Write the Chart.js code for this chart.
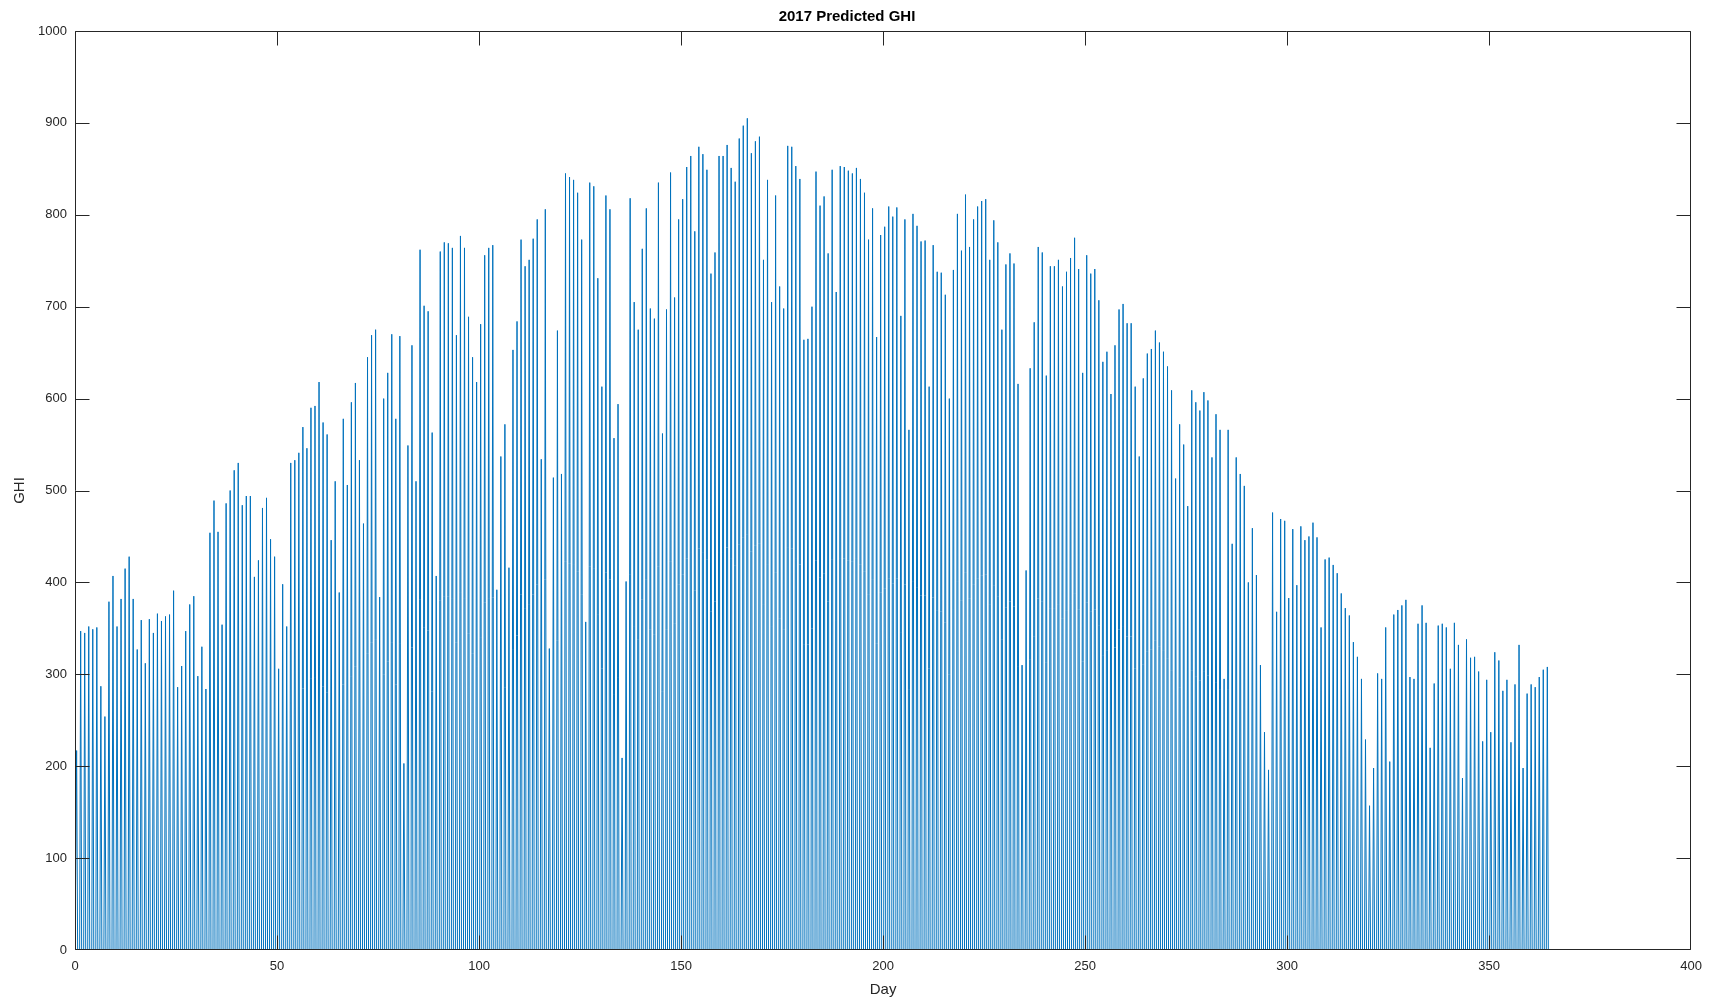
<!DOCTYPE html>
<html>
<head>
<meta charset="utf-8">
<title>2017 Predicted GHI</title>
<script src="https://cdn.jsdelivr.net/npm/chart.js@4.4.1/dist/chart.umd.min.js"></script>
<style>
    html, body { margin: 0; padding: 0; background: #ffffff; }
    #ghiChart { display: block; }
</style>
</head>
<body>
<canvas id="ghiChart" width="1711" height="999"></canvas>
<script>
// Daily peak GHI, day 0 .. day 364
const peakGHI = [
    217, 347, 345, 352, 349, 351, 287, 254, 379, 407, 352, 382, 415, 428, 382, 327, 359, 312, 360, 345, 366, 358, 363, 365, 391, 286, 309, 347, 376, 385, 298,
    330, 284, 454, 489, 455, 354, 486, 500, 522, 530, 484, 494, 494, 406, 424, 481, 492, 447, 428, 306, 398, 352, 530, 533, 541, 569, 546, 590, 592, 618, 574,
    561, 446, 510, 389, 578, 506, 596, 617, 533, 464, 645, 669, 675, 384, 600, 628, 670, 578, 668, 203, 549, 658, 510, 762, 701, 695, 563, 407, 760, 770, 769,
    764, 669, 777, 764, 689, 645, 618, 681, 756, 764, 767, 392, 537, 572, 416, 653, 684, 773, 744, 751, 774, 795, 534, 806, 328, 514, 674, 518, 845, 841, 838,
    824, 773, 357, 835, 831, 731, 613, 821, 806, 557, 594, 209, 401, 818, 705, 675, 763, 807, 698, 687, 835, 562, 697, 846, 710, 795, 817, 852, 864, 782, 874,
    866, 849, 736, 759, 864, 864, 876, 851, 836, 883, 897, 905, 867, 880, 885, 751, 838, 705, 821, 722, 698, 875, 874, 853, 839, 664, 665, 700, 847, 810, 820,
    758, 849, 716, 853, 852, 848, 845, 851, 839, 824, 773, 807, 667, 778, 787, 809, 798, 808, 690, 795, 566, 801, 788, 771, 772, 613, 767, 738, 737, 713,
    600, 740, 801, 761, 822, 765, 795, 809, 815, 817, 751, 794, 770, 675, 746, 758, 747, 616, 310, 413, 633, 683, 765, 759, 625, 744, 744, 751, 722, 738, 753,
    775, 741, 628, 756, 736, 741, 707, 640, 651, 605, 658, 697, 703, 682, 682, 613, 537, 622, 649, 654, 674, 661, 651, 635, 609, 513, 572, 550, 483, 609, 596,
    587, 607, 598, 536, 583, 566, 295, 566, 442, 536, 518, 505, 400, 459, 408, 310, 237, 196, 476, 368, 469, 467, 383, 458, 397, 461, 446, 450, 465, 449, 351,
    425, 427, 419, 410, 388, 372, 364, 335, 319, 295, 229, 157, 198, 301, 295, 351, 205, 365, 370, 375, 381, 297, 295, 355, 375, 356, 220, 290, 353, 355, 351,
    306, 356, 332, 187, 338, 318, 319, 303, 227, 294, 237, 324, 315, 282, 294, 226, 289, 332, 198, 279, 289, 286, 297, 305, 308
];

// Axis ticks
const dayTicks = [0, 50, 100, 150, 200, 250, 300, 350, 400];
const ghiTicks = [0, 100, 200, 300, 400, 500, 600, 700, 800, 900, 1000];

// Each day: night at zero, midday peak, back to zero
const points = [{ x: 0, y: 0 }];
peakGHI.forEach((peak, day) => {
    points.push({ x: day + 0.15, y: 0 });
    points.push({ x: day + 0.4, y: peak });
    points.push({ x: day + 0.65, y: 0 });
});
points.push({ x: peakGHI.length, y: 0 });

const axisColor = '#262626';
const fontFamily = '"Liberation Sans", Arial, Helvetica, sans-serif';

// MATLAB style box with inward tick marks on all four sides
const boxTicks = {
    id: 'boxTicks',
    afterDatasetsDraw(chart) {
        const { ctx, chartArea: a, scales: { x, y } } = chart;
        const len = 14;
        const left = Math.round(a.left) + 0.5;
        const right = Math.round(a.right) - 0.5;
        const top = Math.round(a.top) + 0.5;
        const bottom = Math.round(a.bottom) - 0.5;
        ctx.save();
        ctx.strokeStyle = axisColor;
        ctx.lineWidth = 1;
        ctx.beginPath();
        x.ticks.forEach(t => {
            const px = Math.min(Math.max(Math.round(x.getPixelForValue(t.value)) + 0.5, left), right);
            ctx.moveTo(px, bottom);
            ctx.lineTo(px, bottom - len);
            ctx.moveTo(px, top);
            ctx.lineTo(px, top + len);
        });
        y.ticks.forEach(t => {
            const py = Math.min(Math.max(Math.round(y.getPixelForValue(t.value)) + 0.5, top), bottom);
            ctx.moveTo(left, py);
            ctx.lineTo(left + len, py);
            ctx.moveTo(right, py);
            ctx.lineTo(right - len, py);
        });
        ctx.rect(left, top, right - left, bottom - top);
        ctx.stroke();
        ctx.restore();
    }
};

new Chart(document.getElementById('ghiChart'), {
    type: 'line',
    data: {
        datasets: [{
            label: 'GHI',
            data: points,
            borderColor: '#0072BD',
            borderWidth: 1,
            pointRadius: 0,
            tension: 0,
            fill: false
        }]
    },
    options: {
        responsive: false,
        animation: false,
        devicePixelRatio: 1,
        layout: { padding: { left: 0, right: 17, top: 0, bottom: 0 } },
        plugins: {
            legend: { display: false },
            tooltip: { enabled: false },
            title: {
                display: true,
                text: '2017 Predicted GHI',
                color: '#000000',
                font: { family: fontFamily, size: 15, weight: 'bold' },
                padding: { top: 8, bottom: 5 }
            }
        },
        scales: {
            x: {
                type: 'linear',
                min: 0,
                max: 400,
                afterBuildTicks: (scale) => { scale.ticks = dayTicks.map(v => ({ value: v })); },
                afterFit: (scale) => { scale.height = 49; },
                grid: { display: false, drawTicks: false },
                border: { display: false },
                ticks: {
                    color: axisColor,
                    padding: 9,
                    maxRotation: 0,
                    font: { family: fontFamily, size: 13 },
                    callback: (v) => String(v)
                },
                title: {
                    display: true,
                    text: 'Day',
                    color: axisColor,
                    padding: { top: 0, bottom: 0 },
                    font: { family: fontFamily, size: 15 }
                }
            },
            y: {
                type: 'linear',
                min: 0,
                max: 1000,
                afterBuildTicks: (scale) => { scale.ticks = ghiTicks.map(v => ({ value: v })); },
                afterFit: (scale) => { scale.width = 75; },
                grid: { display: false, drawTicks: false },
                border: { display: false },
                ticks: {
                    color: axisColor,
                    padding: 8,
                    font: { family: fontFamily, size: 13 },
                    callback: (v) => String(v)
                },
                title: {
                    display: true,
                    text: 'GHI',
                    color: axisColor,
                    padding: { top: 11, bottom: 0 },
                    font: { family: fontFamily, size: 15 }
                }
            }
        }
    },
    plugins: [boxTicks]
});
</script>
</body>
</html>
